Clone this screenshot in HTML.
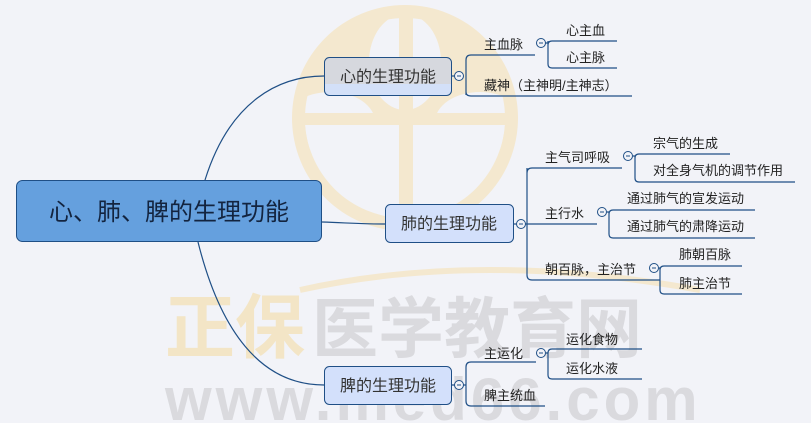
<!DOCTYPE html>
<html><head><meta charset="utf-8"><style>
html,body{margin:0;padding:0;background:#f2f3f8;}
svg{display:block;font-family:"Liberation Sans","Noto Sans CJK SC",sans-serif;}
</style></head><body>
<svg width="811" height="423" viewBox="0 0 811 423" xmlns="http://www.w3.org/2000/svg">
<rect width="811" height="423" fill="#f2f3f8"/>
<!-- watermark logo -->
<defs><clipPath id="cc"><circle cx="405" cy="118" r="100"/></clipPath></defs>
<circle cx="405" cy="118" r="113" fill="#f4e8cf"/>
<g clip-path="url(#cc)" fill="#f2f3f8">
<ellipse cx="405" cy="62" rx="36" ry="48"/>
<rect x="290" y="124" width="230" height="110"/>
<ellipse cx="330" cy="122" rx="45" ry="30"/>
<ellipse cx="480" cy="122" rx="45" ry="30"/>
</g>
<rect x="399" y="10" width="14" height="210" fill="#f4e8cf"/>
<rect x="295" y="113" width="220" height="12" fill="#f4e8cf"/>
<path d="M300 290 Q480 250 700 290" fill="none" stroke="#f4e8cf" stroke-width="6"/>
<text x="165" y="352" font-size="70" font-weight="bold" fill="#f3e5c6">正保</text>
<text x="312" y="352" font-size="66" font-weight="bold" fill="#dadade">医学教育网</text>
<text x="165" y="420" font-size="60" font-weight="bold" fill="#dadade" letter-spacing="4">www.med66.com</text>

<g fill="none" stroke="#1f4f86" stroke-width="1.2">
<path d="M205 180 C230 100 280 76 324 76"/>
<path d="M322 222 C350 223 360 224 385 224"/>
<path d="M198 242 C220 330 260 385 324 385"/>
<path d="M452 76 H458"/>
<path d="M545 43 H548 M548 41 V64 Q548 68 552 68 H617 M548 45 Q548 41 552 41 H617"/>
<path d="M466 95 V60 Q466 55 471 55 H535 M466 92 Q466 96 471 96 H632"/>
<path d="M514 224 H527"/>
<path d="M527 168 V275 Q527 280 532 280 H660 M527 173 Q527 168 532 168 H622 M527 224 H597"/>
<path d="M633 156 H635 V178 Q635 182 639 182 H795 M635 158 Q635 154 639 154 H730"/>
<path d="M607 212 H609 V234 Q609 238 613 238 H755 M609 214 Q609 210 613 210 H755"/>
<path d="M659 268 H660 V290 Q660 294 664 294 H742 M660 270 Q660 266 664 266 H742"/>
<path d="M452 385 H466 V401 Q466 406 471 406 H545 M466 385 V367 Q466 362 471 362 H536"/>
<path d="M546 353 H548 V375 Q548 379 552 379 H642 M548 353 Q548 349 552 349 H642"/>
</g>
<g fill="#f2f3f8" stroke="#1f4f86" stroke-width="1">
<circle cx="459" cy="76" r="4.5"/><circle cx="541" cy="43" r="4.5"/>
<circle cx="521" cy="224" r="4.5"/><circle cx="628" cy="156" r="4.5"/>
<circle cx="602" cy="212" r="4.5"/><circle cx="654" cy="268" r="4.5"/>
<circle cx="459" cy="385" r="4.5"/><circle cx="541" cy="353" r="4.5"/>
</g>
<g stroke="#1f4f86" stroke-width="1">
<path d="M457 76h4M539 43h4M519 224h4M626 156h4M600 212h4M652 268h4M457 385h4M539 353h4"/>
</g>
<defs><linearGradient id="hg" x1="0" y1="0" x2="0" y2="1"><stop offset="0.7" stop-color="#d6d8de"/><stop offset="0.7" stop-color="#d3e0f8"/></linearGradient></defs>
<rect x="16.5" y="180.5" width="305" height="61" rx="6" fill="#65a0de" stroke="#1f4f86"/>
<text x="169" y="220" font-size="24" fill="#13243f" text-anchor="middle">心、肺、脾的生理功能</text>
<rect x="324.5" y="57.5" width="127" height="38" rx="5" fill="url(#hg)" stroke="#1f4f86"/>
<text x="388" y="82" font-size="16" fill="#333" text-anchor="middle">心的生理功能</text>
<rect x="385.5" y="204.5" width="128" height="38" rx="5" fill="#d3e0fb" stroke="#1f4f86"/>
<text x="449" y="229" font-size="16" fill="#333" text-anchor="middle">肺的生理功能</text>
<rect x="324.5" y="366.5" width="127" height="38" rx="5" fill="#d3e0fb" stroke="#1f4f86"/>
<text x="388" y="391" font-size="16" fill="#333" text-anchor="middle">脾的生理功能</text>
<g font-size="13" fill="#222">
<text x="484" y="49">主血脉</text>
<text x="566" y="35">心主血</text>
<text x="566" y="62">心主脉</text>
<text x="484" y="90">藏神（主神明/主神志）</text>
<text x="545" y="162">主气司呼吸</text>
<text x="653" y="148">宗气的生成</text>
<text x="653" y="175">对全身气机的调节作用</text>
<text x="545" y="218">主行水</text>
<text x="627" y="203">通过肺气的宣发运动</text>
<text x="627" y="231">通过肺气的肃降运动</text>
<text x="545" y="274">朝百脉，主治节</text>
<text x="679" y="259">肺朝百脉</text>
<text x="679" y="288">肺主治节</text>
<text x="484" y="358">主运化</text>
<text x="566" y="344">运化食物</text>
<text x="566" y="373">运化水液</text>
<text x="484" y="400">脾主统血</text>
</g>
</svg>
</body></html>
